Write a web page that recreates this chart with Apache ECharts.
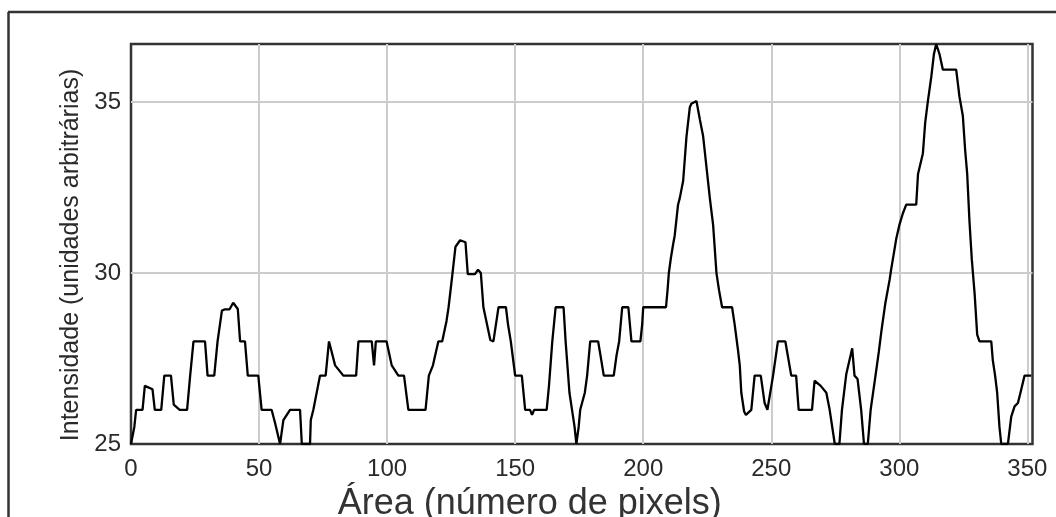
<!DOCTYPE html>
<html>
<head>
<meta charset="utf-8">
<script src="https://cdn.jsdelivr.net/npm/echarts@6/dist/echarts.min.js"></script>
<style>
  html, body { margin: 0; padding: 0; background: #ffffff; }
  #chart { width: 1056px; height: 517px; }
</style>
</head>
<body>
<div id="chart"></div>
<script>
// Profile vertices (x = área in pixels, y = intensidade)
const profileX = [
  0, 0.5, 1.3, 2, 4.5, 5.4, 8.4, 9.3, 11.8, 13, 15.6, 16.7, 19, 21.9, 23.1, 24.4, 28.9, 29.9, 32.5, 33.8,
  35.5, 36.7, 38.5, 39.9, 41.7, 42.6, 44.5, 45.6, 49.7, 51, 54.9, 56.3, 58.2, 59.5, 62.1, 66, 66.7, 69.9,
  70.2, 71.2, 73.8, 76, 77.3, 78, 79.7, 82.9, 87.9, 88.8, 94, 94.9, 95.6, 99.8, 101.8, 104.4, 106.6, 108.3,
  115, 116.3, 117.9, 120, 121.5, 123.2, 124, 125.4, 126.7, 128.5, 130.6, 131.5, 134.3, 135.5, 136.6, 137.6,
  140.3, 141.5, 142.5, 143.5, 146.4, 147.2, 148.3, 150, 152.6, 153.9, 155.8, 156.6, 157.4, 162.3, 163.2,
  164.5, 165.8, 168.9, 169.7, 170.5, 171.2, 172.2, 173.2, 173.9, 174.8, 175.4, 177.2, 178.1, 179.3, 182.4,
  183.3, 184.6, 188.5, 189.6, 190.6, 191.8, 194.2, 195.4, 198.9, 199.6, 200, 208.9, 209.5, 210, 210.8, 211.7,
  212.3, 213.6, 214.3, 215.6, 216.3, 216.9, 218.2, 218.8, 220.8, 222.1, 223.4, 224.7, 226, 227.3, 228.6,
  229.6, 230.8, 234.7, 235.7, 237, 237.7, 238.3, 239.4, 240.1, 242.2, 243.5, 245.9, 247.4, 248.5, 250.7,
  252.6, 255.5, 257.8, 259.7, 260.7, 265.9, 266.9, 269.3, 271.5, 272.8, 274.8, 276.6, 277.6, 279.3, 281,
  281.6, 282.5, 283.7, 285.1, 286.2, 287.7, 288.8, 290.7, 292, 293, 294.5, 296.2, 296.8, 298.8, 300, 301.4,
  302.7, 306.6, 307.3, 309.2, 310.1, 311.1, 312.5, 313.5, 314.4, 315.7, 317, 322.2, 323.5, 324.8, 325.7,
  326.5, 327.4, 328.3, 329.4, 330.4, 331.3, 335.9, 336.5, 337.4, 338.2, 339.1, 339.8, 342.4, 343.7, 345,
  346.3, 347.3, 348.9, 351.5
];
const profileY = [
  25, 25, 25.5, 26, 26, 26.7, 26.6, 26, 26, 27, 27, 26.15, 26, 26, 27, 28, 28, 27, 27, 28,
  28.9, 28.94, 28.94, 29.13, 28.95, 28, 28, 27, 27, 26, 26, 25.6, 25, 25.7, 26, 26, 25, 25,
  25.7, 26, 27, 27, 28, 27.8, 27.3, 27, 27, 28, 28, 27.3, 28, 28, 27.3, 27, 27, 26,
  26, 27, 27.3, 28, 28, 28.6, 29, 29.9, 30.77, 30.96, 30.9, 29.97, 29.97, 30.1, 30, 29,
  28.04, 28, 28.5, 29, 29, 28.5, 28, 27, 27, 26, 26, 25.85, 26, 26, 26.7,
  28, 29, 29, 28, 27.2, 26.5, 26, 25.5, 25, 25.5, 26, 26.5, 27, 28, 28,
  27.6, 27, 27, 27.6, 28, 29, 29, 28, 28, 28.5, 29, 29, 29.5, 30, 30.44, 30.85,
  31.1, 32, 32.2, 32.7, 33.4, 34, 34.85, 34.95, 35.03, 34.5, 34, 33.1, 32.2, 31.4, 30,
  29.5, 29, 29, 28.5, 27.75, 27.3, 26.5, 25.95, 25.85, 26, 27, 27, 26.2, 26, 27,
  28, 28, 27, 27, 26, 26, 26.85, 26.7, 26.5, 26, 25, 25, 26, 27.05, 27.6,
  27.8, 27, 26.9, 26, 25, 25, 26, 27, 27.7, 28.3, 29.1, 29.8, 30.1, 31, 31.4, 31.75,
  32, 32, 32.9, 33.5, 34.4, 35, 35.75, 36.4, 36.7, 36.4, 35.95, 35.95, 35.15, 34.6, 33.6,
  32.9, 31.5, 30.4, 29.4, 28.2, 28, 28, 27.45, 27, 26.5, 25.5, 25, 25, 25.8, 26.1,
  26.2, 26.5, 27, 27
];
const xAxisRange = [0, 352];
const yAxisRange = [25, 36.7];
const xTickStep = 50;
const yTickStep = 5;
const xTitle = 'Área (número de pixels)';
const yTitle = 'Intensidade (unidades arbitrárias)';

const seriesData = profileX.map((x, i) => [x, profileY[i]]);

const chart = echarts.init(document.getElementById('chart'), null, { renderer: 'canvas' });
const FONT = 'Liberation Sans, Arial, sans-serif';

chart.setOption({
  backgroundColor: '#ffffff',
  animation: false,
  grid: {
    left: 131, top: 44, right: 23.5, bottom: 73,
    containLabel: false,
    outerBoundsMode: 'none',
    show: true, borderColor: '#333333', borderWidth: 2.5, backgroundColor: 'transparent'
  },
  xAxis: {
    type: 'value',
    min: xAxisRange[0], max: xAxisRange[1], interval: xTickStep,
    name: xTitle,
    nameLocation: 'middle',
    nameGap: 40,
    nameTextStyle: { fontFamily: FONT, fontSize: 36, color: '#333333', padding: [0, 104, 0, 0] },
    axisLine: { show: false },
    axisTick: { show: false },
    axisLabel: { showMaxLabel: false, margin: 13, fontFamily: FONT, fontSize: 24, color: '#2a2a2a' },
    splitLine: { show: true, showMinLine: false, showMaxLine: false, lineStyle: { color: '#cccccc', width: 2 } }
  },
  yAxis: {
    type: 'value',
    min: yAxisRange[0], max: yAxisRange[1], interval: yTickStep,
    name: yTitle,
    nameLocation: 'middle',
    nameGap: 46,
    nameTextStyle: { fontFamily: FONT, fontSize: 25, color: '#2a2a2a', padding: [0, 22, 0, 0] },
    axisLine: { show: false },
    axisTick: { show: false },
    axisLabel: { showMaxLabel: false, margin: 10, fontFamily: FONT, fontSize: 24, color: '#2a2a2a' },
    splitLine: { show: true, showMinLine: false, showMaxLine: false, lineStyle: { color: '#cccccc', width: 2 } }
  },
  series: [{
    type: 'line',
    data: seriesData,
    showSymbol: false,
    symbol: 'none',
    lineStyle: { color: '#000000', width: 2.3 },
    clip: true,
    z: 3
  }],
  graphic: [
    { type: 'line', shape: { x1: 8.5, y1: 12, x2: 8.5, y2: 517 }, style: { stroke: '#333333', lineWidth: 2.5 } },
    { type: 'line', shape: { x1: 8, y1: 12, x2: 1056, y2: 12 }, style: { stroke: '#333333', lineWidth: 2.5 } }
  ]
});
</script>
</body>
</html>
